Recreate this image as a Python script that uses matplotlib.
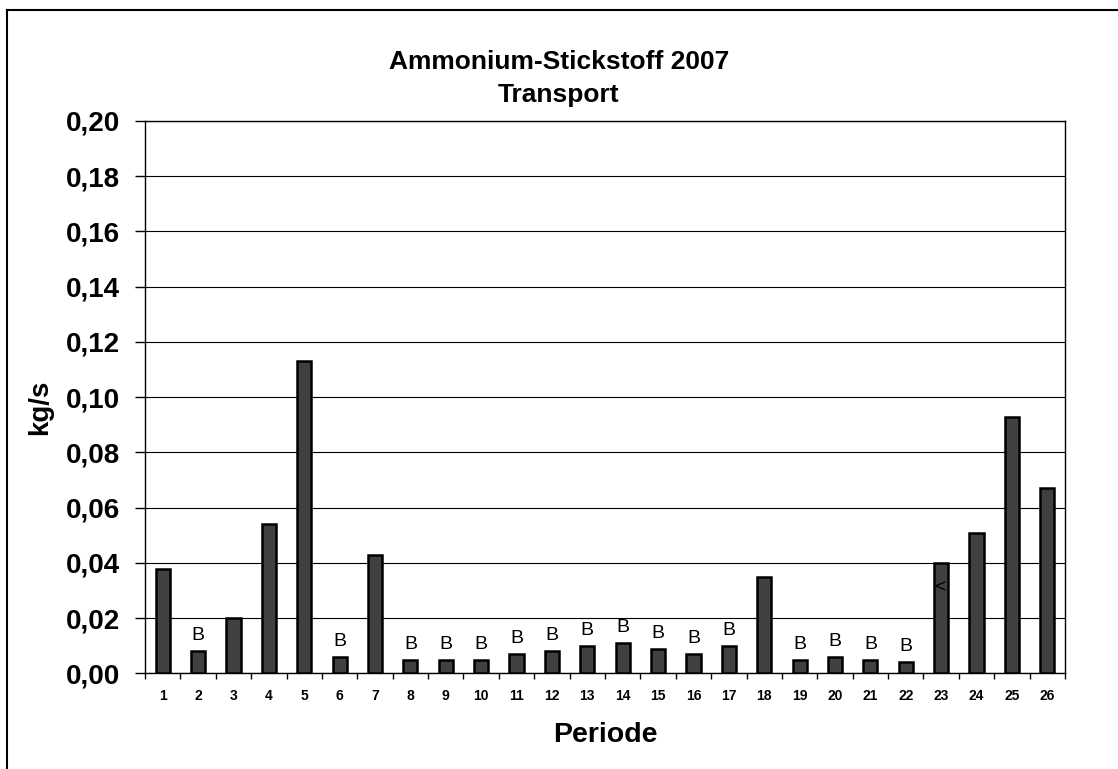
import matplotlib
matplotlib.use('Agg')
from matplotlib import pyplot as plt
from matplotlib.lines import Line2D
import numpy as np

plt.rcParams['font.family'] = ['Liberation Sans', 'DejaVu Sans']

# data
perioden = [str(i) for i in range(1, 27)]
transport = [0.038, 0.008, 0.020, 0.054, 0.113, 0.006, 0.043, 0.005, 0.005, 0.005,
             0.007, 0.008, 0.010, 0.011, 0.009, 0.007, 0.010, 0.035, 0.005, 0.006,
             0.005, 0.004, 0.040, 0.051, 0.093, 0.067]
marks = ['', 'B', '', '', '', 'B', '', 'B', 'B', 'B',
         'B', 'B', 'B', 'B', 'B', 'B', 'B', '', 'B', 'B',
         'B', 'B', '<', '', '', '']
yticks = [0.00, 0.02, 0.04, 0.06, 0.08, 0.10, 0.12, 0.14, 0.16, 0.18, 0.20]

fig = plt.figure(figsize=(11.18, 7.69), dpi=100)
ax = fig.add_axes([0.1297, 0.1242, 0.8229, 0.7185])

x = np.arange(1, len(transport) + 1)
ax.bar(x, transport, width=0.4, color='#404040', edgecolor='black', linewidth=1.8, zorder=3)

# B / < markers above (or inside) the bars
for xi, v, m in zip(x, transport, marks):
    if m == 'B':
        ax.annotate(m, (xi, v), xytext=(0, 8), textcoords='offset points',
                    ha='center', va='baseline', fontsize=14, zorder=4)
    elif m == '<':
        ax.annotate(m, (xi, v), xytext=(0, -18), textcoords='offset points',
                    ha='center', va='center', fontsize=14, zorder=4)

ax.set_xlim(0.5, len(transport) + 0.5)
ax.set_ylim(0, 0.20)
ax.set_yticks(yticks)
ax.set_yticklabels([('%.2f' % t).replace('.', ',') for t in yticks], fontsize=20, fontweight='bold')
ax.yaxis.grid(True, color='black', linewidth=0.8, zorder=0)

ax.set_xticks(x)
ax.set_xticklabels(perioden, fontsize=10, fontweight='bold')
ax.set_xticks(np.arange(0.5, len(transport) + 1, 1.0), minor=True)
ax.tick_params(axis='x', which='major', length=0, pad=11)
ax.tick_params(axis='x', which='minor', length=4, width=1, direction='out')
ax.tick_params(axis='y', length=7, width=1, direction='out', pad=11)

for s in ax.spines.values():
    s.set_linewidth(1)

ax.set_xlabel('Periode', fontsize=20.5, fontweight='bold', labelpad=14)
ax.set_ylabel('kg/s', fontsize=20, fontweight='bold', labelpad=9)
ax.yaxis.label.set_y(0.482)

fig.text(0.5, 0.898, 'Ammonium-Stickstoff 2007\nTransport', ha='center', va='center',
         fontsize=19, fontweight='bold', linespacing=1.45)

# outer chart border (top and left only visible)
fig.add_artist(Line2D([0.0063, 1.0], [0.9876, 0.9876], color='black', linewidth=1.5))
fig.add_artist(Line2D([0.0063, 0.0063], [0.0, 0.9876], color='black', linewidth=1.5))

fig.savefig('out.png', dpi=100)
